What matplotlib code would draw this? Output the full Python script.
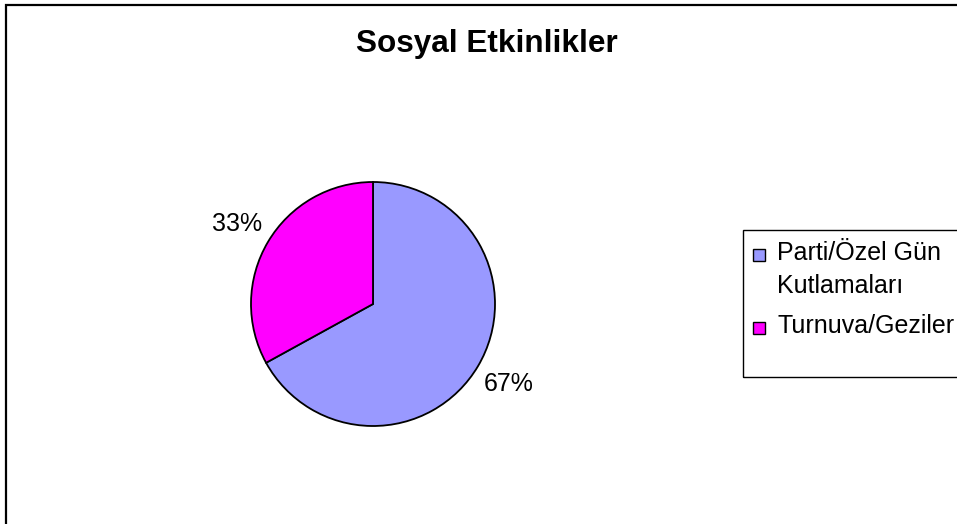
import matplotlib
matplotlib.use('Agg')
import matplotlib.pyplot as plt
from matplotlib.patches import Rectangle

# chart data
title = "Sosyal Etkinlikler"
categories = ["Parti/Özel Gün\nKutlamaları", "Turnuva/Geziler"]
shares = [67, 33]
colors = ['#9999FF', '#FF00FF']

plt.rcParams['font.family'] = ['Liberation Sans', 'DejaVu Sans']

W, H = 957, 524
fig = plt.figure(figsize=(W / 100, H / 100), dpi=100)


def px(x, y):
    # pixel position (from top-left) -> figure fraction
    return x / W, 1 - y / H


# outer chart border (right/bottom edges fall outside the picture)
fig.patches.append(Rectangle((6 / W, -0.2), 1.2, 1.2 - 5 / H,
                             transform=fig.transFigure, fill=False,
                             edgecolor='black', linewidth=1.6))

# pie axes, center ~(373, 304) px, radius ~122 px
cx, cy, r = 373, 304, 122
ax = fig.add_axes([(cx - r) / W, (H - cy - r) / H, 2 * r / W, 2 * r / H])
wedges, _, pcts = ax.pie(shares, colors=colors, startangle=90, counterclock=False,
                         autopct='%1.0f%%', pctdistance=1.29,
                         wedgeprops=dict(edgecolor='black', linewidth=1.3),
                         textprops=dict(fontsize=18, color='black'))
ax.set_xlim(-1, 1)
ax.set_ylim(-1, 1)
ax.set_aspect('equal')
ax.axis('off')
for t in pcts:
    t.set_clip_on(False)

fig.text(*px(487, 52), title, ha='center', va='baseline',
         fontsize=22.7, fontweight='bold')

# legend box, drawn by hand to get the Excel layout
x0, y0 = px(743, 377)
fig.patches.append(Rectangle((x0, y0), 0.3, (377 - 230) / H,
                             transform=fig.transFigure, fill=False,
                             edgecolor='black', linewidth=1.0))
baselines = [260, 333]
for lab, c, b in zip(categories, colors, baselines):
    mx, my = px(753, b + 1)
    fig.patches.append(Rectangle((mx, my), 12 / W, 12 / H, transform=fig.transFigure,
                                 facecolor=c, edgecolor='black', linewidth=1.0))
    first, *rest = lab.split('\n')
    fig.text(*px(777, b), first, ha='left', va='baseline', fontsize=18)
    for i, line in enumerate(rest, 1):
        fig.text(*px(777, b + 33 * i), line, ha='left', va='baseline', fontsize=18)

fig.savefig('out.png', dpi=100)
